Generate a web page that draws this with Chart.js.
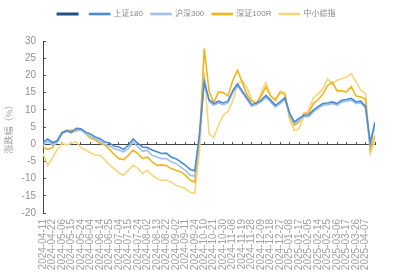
<!DOCTYPE html>
<html><head><meta charset="utf-8">
<script src="https://cdn.jsdelivr.net/npm/chart.js@4/dist/chart.umd.min.js"></script>
<style>html,body{margin:0;padding:0;background:#fff}</style>
</head><body>
<canvas id="c" width="393" height="277"></canvas>
<script>
// x tick labels (one every 7 trading days)
const dateLabels = ['2024-04-11','2024-04-22','2024-05-06','2024-05-15','2024-05-24','2024-06-04','2024-06-14','2024-06-25','2024-07-04','2024-07-15','2024-07-24','2024-08-02','2024-08-13','2024-08-22','2024-09-02','2024-09-11','2024-09-24','2024-10-10','2024-10-21','2024-10-30','2024-11-08','2024-11-19','2024-11-28','2024-12-09','2024-12-18','2024-12-27','2025-01-08','2025-01-17','2025-02-05','2025-02-14','2025-02-25','2025-03-06','2025-03-17','2025-03-26','2025-04-07'];
// sample spacing, in tick intervals
const step = 0.5;
const yTicks = {min: -20, max: 30, step: 5};

const sz180 = [0.5,1.5,0.5,1.0,3.3,4.0,3.5,4.6,4.5,3.5,3.0,2.1,1.6,0.7,0.3,-0.5,-0.8,-1.5,-0.3,1.5,0.2,-0.8,-1.0,-1.7,-2.2,-2.7,-2.6,-3.7,-4.2,-5.1,-6.1,-7.3,-7.8,3.0,18.0,13.0,11.8,12.5,12.0,12.5,15.5,17.5,15.5,13.5,11.5,12.0,12.8,14.2,12.8,11.3,12.3,13.5,9.0,6.5,7.5,8.4,8.5,9.9,10.9,11.8,12.0,12.3,11.8,12.8,13.0,13.3,12.3,12.5,11.0,0.5,6.5];
const hs300 = [-0.3,0.8,-0.3,0.5,3.0,3.7,3.2,4.3,4.0,3.0,2.4,1.5,1.0,0.0,-0.5,-1.3,-1.7,-2.2,-1.3,0.7,-0.8,-2.0,-1.8,-3.2,-3.7,-4.2,-4.2,-5.1,-5.6,-6.6,-7.6,-9.0,-9.3,2.5,19.0,12.5,11.3,12.0,11.5,12.0,15.0,17.0,15.0,13.0,11.0,11.5,12.3,13.7,12.3,10.8,11.8,13.0,8.5,6.0,7.0,8.0,8.0,9.4,10.4,11.3,11.5,11.8,11.3,12.3,12.5,12.8,11.8,12.0,10.5,-0.5,5.5];
const szse100r = [-0.8,-1.5,-1.0,1.0,3.5,3.8,4.1,3.8,4.4,3.0,1.8,1.2,0.3,-0.2,-1.5,-3.0,-4.2,-4.5,-3.2,-1.7,-2.7,-4.2,-3.7,-5.1,-6.1,-6.0,-6.2,-7.1,-7.6,-8.0,-9.0,-10.5,-11.0,2.0,27.8,15.5,12.0,15.2,15.0,14.0,18.5,21.5,18.0,14.5,12.5,12.0,14.0,16.7,14.0,13.0,15.0,14.5,8.0,5.5,6.5,9.0,9.0,11.8,13.0,14.5,17.0,18.0,15.5,15.5,15.2,16.7,14.0,13.8,13.0,-1.5,2.5];
const smeComp = [-2.7,-6.1,-4.0,-1.5,0.2,-0.2,0.3,0.7,-1.0,-1.7,-2.5,-3.2,-3.2,-4.5,-6.0,-7.1,-8.3,-9.0,-7.6,-6.1,-7.0,-8.5,-7.6,-9.0,-10.0,-10.5,-10.5,-11.0,-11.9,-12.4,-12.9,-14.0,-14.3,-2.0,21.0,3.0,2.0,5.5,8.5,9.5,12.5,17.5,18.5,16.5,13.0,11.5,15.0,18.0,14.0,12.5,15.5,15.0,7.0,4.0,4.5,8.0,10.0,13.5,14.7,16.0,19.0,17.5,18.6,19.1,19.5,20.5,18.1,15.7,14.7,-2.7,1.0];

const FONT = "'Liberation Sans','Noto Sans CJK SC',sans-serif";
Chart.defaults.font.family = FONT;
Chart.defaults.color = '#888';

const toPts = arr => arr.map((v, i) => ({x: i * step, y: v}));
const xMax = (sz180.length - 1) * step;

const legendGap = {
  id: 'legendGap',
  beforeInit(chart) {
    const lg = chart.legend;
    if (!lg) return;
    const f = lg.fit;
    lg.fit = function () { f.call(this); this.height += 13; };
  }
};

function ds(label, data, color, w) {
  return {label, data: toPts(data), borderColor: color, backgroundColor: color,
          borderWidth: w, pointRadius: 0, tension: 0, fill: false};
}

new Chart(document.getElementById('c'), {
  type: 'line',
  data: {datasets: [
    {label: '', data: [], borderColor: '#1f4e8f', backgroundColor: '#1f4e8f', borderWidth: 2, pointRadius: 0},
    ds('上证180', sz180, '#4a8ad6', 1.6),
    ds('沪深300', hs300, '#9fc0e8', 1.6),
    ds('深证100R', szse100r, '#f2b41c', 1.6),
    ds('中小综指', smeComp, '#f7d67a', 1.6)
  ]},
  options: {
    responsive: false, animation: false,
    layout: {padding: {left: 0, right: 0, top: 2, bottom: 0}},
    plugins: {
      legend: {labels: {boxWidth: 20, boxHeight: 1, font: {size: 8}, color: '#888', padding: 8}},
      tooltip: {enabled: false}
    },
    scales: {
      x: {
        type: 'linear', min: 0, max: xMax,
        ticks: {stepSize: 1, autoSkip: false, maxRotation: 90, minRotation: 90,
                font: {size: 10}, color: '#a0a0a0', padding: 6,
                callback: (v) => dateLabels[v] ?? ''},
        grid: {display: false, drawTicks: false},
        border: {display: false},
        afterFit(s) { s.height = 64; }
      },
      x2: {
        type: 'linear', min: 0, max: xMax, position: {y: 0},
        ticks: {display: false, stepSize: 1},
        grid: {drawOnChartArea: false, drawTicks: true, tickLength: -3, color: '#555'},
        border: {display: true, color: '#444', width: 1}
      },
      y: {
        min: yTicks.min, max: yTicks.max,
        ticks: {stepSize: yTicks.step, font: {size: 10}, color: '#909090', padding: 10},
        grid: {drawOnChartArea: false, tickLength: -3, color: '#555'},
        border: {color: '#444'},
        title: {display: true, text: '涨跌幅（%）', font: {size: 9}, color: '#a0a0a0', padding: {top: 4, bottom: 0}},
        afterFit(s) { s.width = 43; }
      }
    }
  },
  plugins: [legendGap]
});
</script>
</body></html>
